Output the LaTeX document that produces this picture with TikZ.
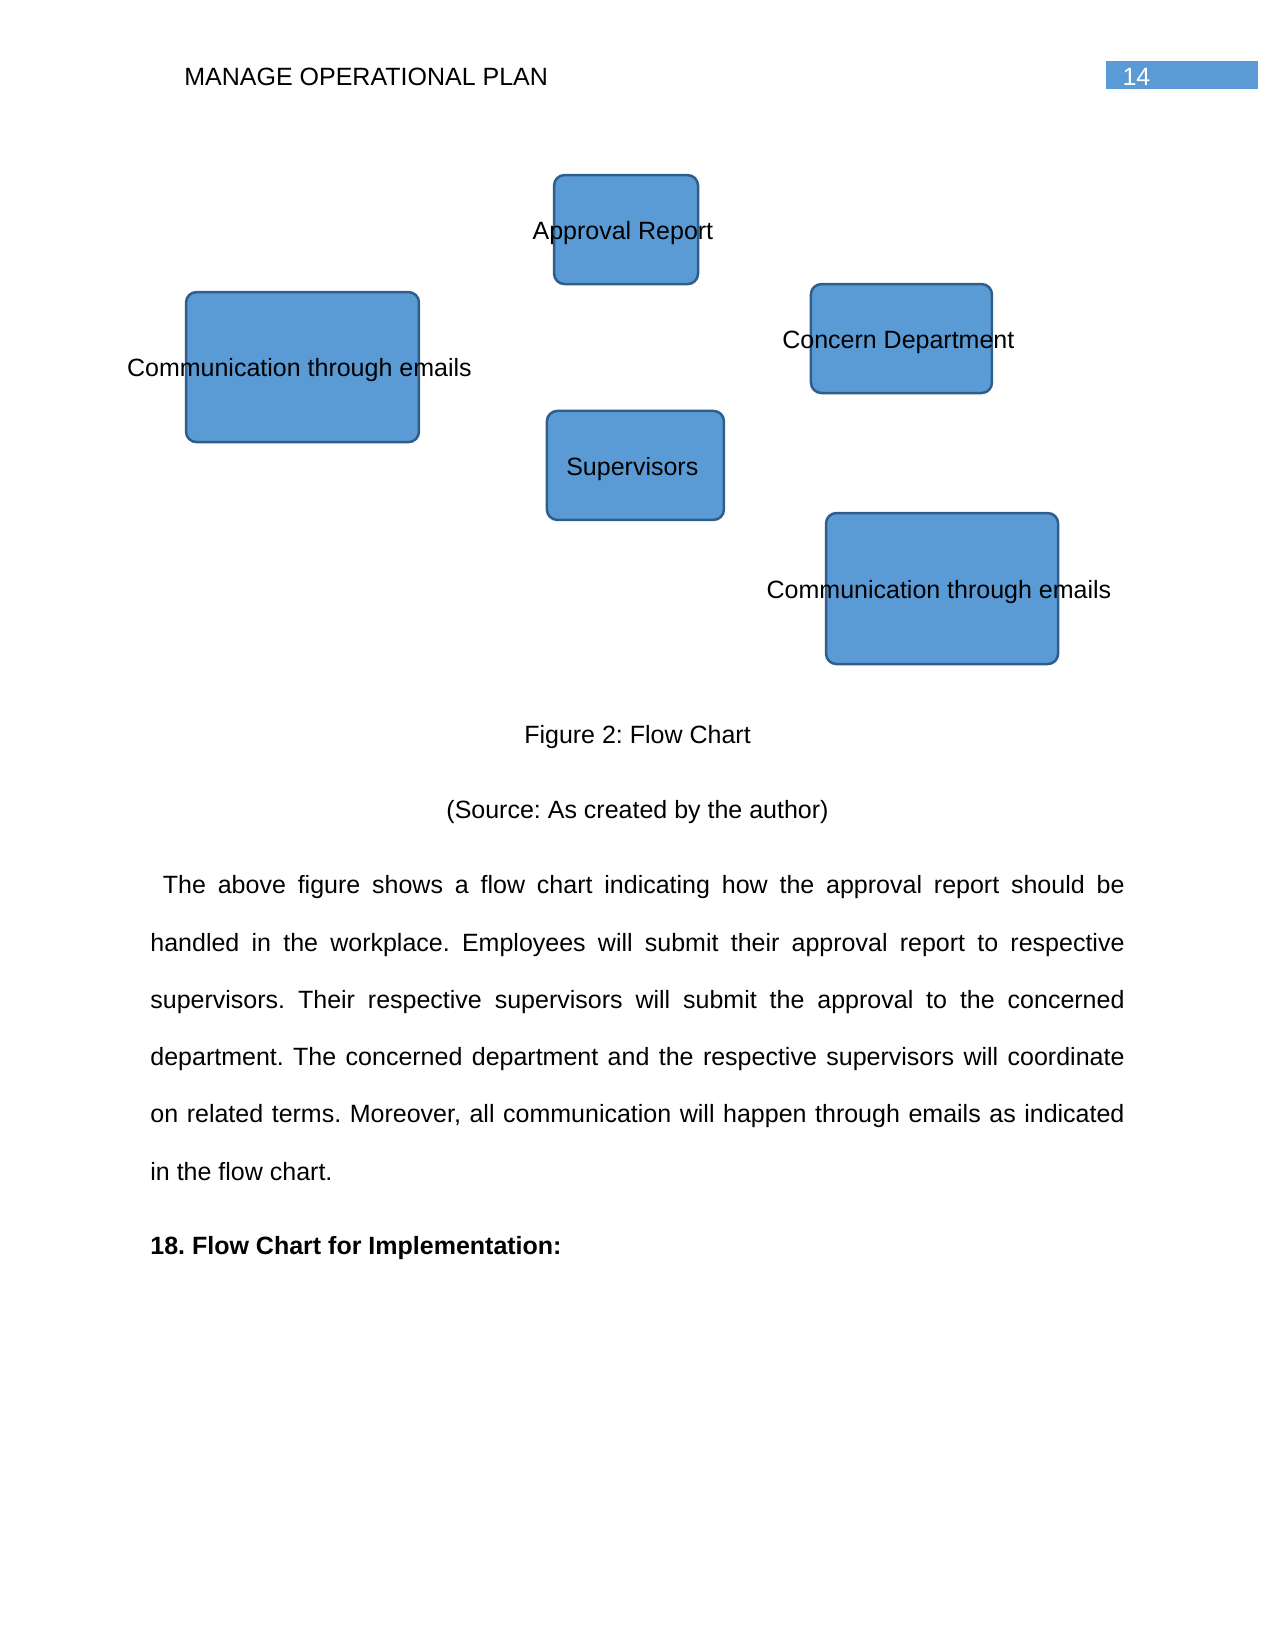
\documentclass[tikz,border=0pt]{standalone}
\usepackage{fontspec}
\setmainfont{Liberation Sans}
\usetikzlibrary{positioning}
\usepackage{xcolor}
\definecolor{boxblue}{HTML}{5B9BD5}
\definecolor{boxedge}{HTML}{2F5D8C}
\newcommand{\boxlabel}[1]{\makebox[0pt]{\hspace*{-3pt}#1}}

\begin{document}
\frenchspacing
\begin{tikzpicture}[x=1pt,y=-1pt,
  flowbox/.style={draw=boxedge, line width=1.2pt, rounded corners=5pt, fill=boxblue, inner sep=0pt,
    text height=11.7pt, text depth=2.5pt, font=\fontsize{12}{14}\selectfont},
  pagetext/.style={inner sep=0pt, font=\fontsize{12}{14}\selectfont}]
  \useasboundingbox (0,0) rectangle (612,792);
  % running head
  \node (head) [pagetext, anchor=base west] at (88.3,40.9) {MANAGE OPERATIONAL PLAN};
  \node (pagebox) [fill=boxblue, minimum width=72.5pt, minimum height=13.4pt, inner sep=0pt, anchor=north west] at (530.9,29.3) {};
  \node (pagenum) [pagetext, text=white, anchor=base west] at (538.6,40.9) {14};
  % flow chart boxes, labels run past the edges
  \node (approval) [flowbox, minimum width=69.1pt, minimum height=52.3pt] at (300.5,110.2) {\boxlabel{Approval Report}};
  \node (mailleft) [flowbox, minimum width=111.8pt, minimum height=72pt] at (145.2,176.2) {\boxlabel{Communication through emails}};
  \node (concern) [flowbox, minimum width=86.9pt, minimum height=52.3pt] at (432.7,162.5) {\boxlabel{Concern Department}};
  \node (superv) [flowbox, minimum width=85pt, minimum height=52.3pt] at (305,223.4) {\boxlabel{Supervisors}};
  \node (mailright) [flowbox, minimum width=111.4pt, minimum height=72.5pt] at (452.2,282.5) {\boxlabel{Communication through emails}};
  % caption
  \node (caption) [pagetext, anchor=base] at (306,357) {Figure 2: Flow Chart};
  \node (source) [pagetext, anchor=base] at (306,392.8) {(Source: As created by the author)};
  % body text
  \node (body) [inner sep=0pt, anchor=north west, text width=467.6pt, align=justify,
    font=\fontsize{12}{27.5}\selectfont] at (72,420.1) {\hspace*{6pt}The above figure shows a flow chart indicating how the approval report should be\linebreak
    handled in the workplace. Employees will submit their approval report to respective\linebreak
    supervisors. Their respective supervisors will submit the approval to the concerned\linebreak
    department. The concerned department and the respective supervisors will coordinate\linebreak
    on related terms. Moreover, all communication will happen through emails as indicated\linebreak
    in the flow chart.};
  \node (section) [pagetext, font=\fontsize{12}{14}\selectfont\bfseries, anchor=base west] at (72,602) {18. Flow Chart for Implementation:};
\end{tikzpicture}
\end{document}
